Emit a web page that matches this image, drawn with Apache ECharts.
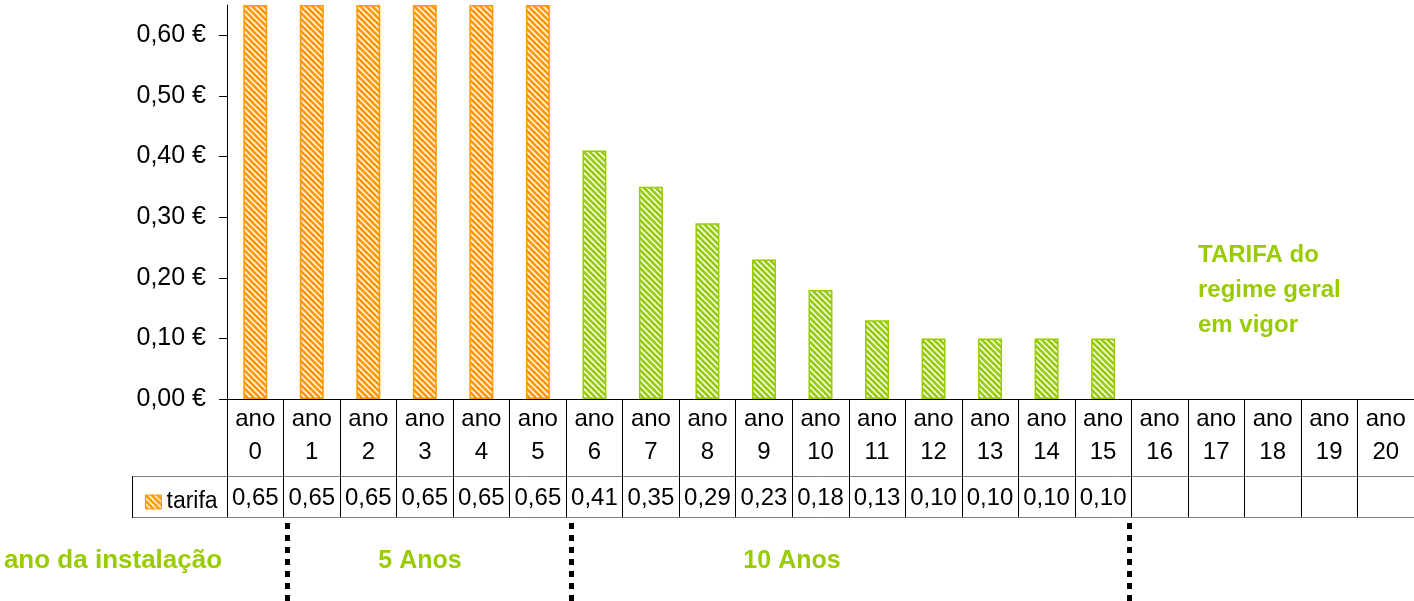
<!DOCTYPE html>
<html>
<head>
<meta charset="utf-8">
<script src="https://cdn.jsdelivr.net/npm/echarts@6/dist/echarts.min.js"></script>
<style>
html,body{margin:0;padding:0;background:#fff;}
#chart{width:1414px;height:601px;}
</style>
</head>
<body>
<div id="chart"></div>
<script>
// ---- data ----
const years = [0,1,2,3,4,5,6,7,8,9,10,11,12,13,14,15,16,17,18,19,20];
const categories = years.map(y => 'ano\n' + y);
const tarifa = [0.65,0.65,0.65,0.65,0.65,0.65,0.41,0.35,0.29,0.23,0.18,0.13,0.10,0.10,0.10,0.10,null,null,null,null,null];
const bonifiedYears = 6; // ano 0..5 in orange
const yTicks = [0,0.1,0.2,0.3,0.4,0.5,0.6];
const seriesName = 'tarifa';
const annotations = ['ano da instalação','5 Anos','10 Anos'];
const sideNote = 'TARIFA do\nregime geral\nem vigor';

// ---- styles ----
const ORANGE = '#ff9900';
const GREEN = '#99cc00';
const FONT = 'Liberation Sans, Arial, sans-serif';

function makePattern(color){
  const c = document.createElement('canvas');
  c.width = 12; c.height = 12;
  const ctx = c.getContext('2d');
  ctx.fillStyle = '#ffffff';
  ctx.fillRect(0,0,12,12);
  ctx.strokeStyle = color;
  ctx.lineWidth = 2.7;
  for (let k = -3; k <= 3; k++){
    ctx.beginPath();
    ctx.moveTo(-2, -2 + k*6);
    ctx.lineTo(14, 14 + k*6);
    ctx.stroke();
  }
  return {image: c, repeat: 'repeat'};
}
const orangePat = makePattern(ORANGE);
const greenPat = makePattern(GREEN);

const fmt = v => (v == null ? '' : v.toFixed(2).replace('.', ','));

const GRID_LEFT = 227, GRID_WIDTH = 1190, GRID_TOP = 5, GRID_BOTTOM = 202;
const ROW1 = 77, ROW2 = 41;
const AXIS_Y = 601 - GRID_BOTTOM;
const catW = GRID_WIDTH / categories.length;

const barData = tarifa.map((v, i) => ({
  value: v,
  itemStyle: {
    color: i < bonifiedYears ? orangePat : greenPat,
    borderColor: i < bonifiedYears ? ORANGE : GREEN,
    borderWidth: 1.5
  }
}));

const chart = echarts.init(document.getElementById('chart'), null, {renderer: 'canvas'});

// dotted separators near category boundaries (after ano 0, ano 5, ano 15)
const sepIdx = [1, bonifiedYears, 16];
const sepShift = [3, 4, -5];
const graphics = [];
sepIdx.forEach((k, i) => {
  const x = Math.round(GRID_LEFT + k * catW + sepShift[i]) + 0.5;
  graphics.push({
    type: 'line', silent: true,
    shape: {x1: x, y1: 523, x2: x, y2: 601},
    style: {stroke: '#000', lineWidth: 5, lineDash: [6, 6]}
  });
});
// legend cell borders
graphics.push({type:'line', silent:true, shape:{x1:132.5,y1:AXIS_Y+ROW1+0.5,x2:GRID_LEFT,y2:AXIS_Y+ROW1+0.5}, style:{stroke:'#808080',lineWidth:1}});
graphics.push({type:'line', silent:true, shape:{x1:132.5,y1:AXIS_Y+ROW1+ROW2+0.5,x2:GRID_LEFT,y2:AXIS_Y+ROW1+ROW2+0.5}, style:{stroke:'#808080',lineWidth:1}});
graphics.push({type:'line', silent:true, shape:{x1:132.5,y1:AXIS_Y+ROW1,x2:132.5,y2:AXIS_Y+ROW1+ROW2+1}, style:{stroke:'#000',lineWidth:1}});
// annotation texts
const annX = [113, 420, 792];
const annSize = [26, 25, 25];
annotations.forEach((t, i) => {
  graphics.push({
    type: 'text', silent: true, x: annX[i], y: 561,
    style: {text: t, fill: GREEN, font: 'bold ' + annSize[i] + 'px ' + FONT, textAlign: 'center', textVerticalAlign: 'middle'}
  });
});
graphics.push({
  type: 'text', silent: true, x: 1198, y: 238,
  style: {text: sideNote, fill: GREEN, font: 'bold 24px ' + FONT, lineHeight: 35, textAlign: 'left', textVerticalAlign: 'top'}
});

chart.setOption({
  animation: false,
  backgroundColor: '#ffffff',
  textStyle: {fontFamily: FONT},
  grid: {left: GRID_LEFT, width: GRID_WIDTH, top: GRID_TOP, bottom: GRID_BOTTOM, containLabel: false},
  legend: {
    left: 140, top: 485,
    itemWidth: 16, itemHeight: 14, itemGap: 10,
    textStyle: {fontSize: 23, color: '#000', fontFamily: FONT, lineHeight: 24},
    data: [{name: seriesName, icon: 'rect', itemStyle: {color: orangePat, borderColor: ORANGE, borderWidth: 1}}]
  },
  xAxis: [
    {
      type: 'category', data: categories, position: 'bottom',
      axisLine: {show: true, lineStyle: {color: '#000', width: 1}},
      axisTick: {show: true, length: ROW1, lineStyle: {color: '#000'}},
      axisLabel: {interval: 0, fontSize: 24, color: '#000', lineHeight: 33, margin: 4, fontFamily: FONT}
    },
    {
      type: 'category', data: tarifa.map(fmt), position: 'bottom', offset: ROW1,
      axisLine: {show: true, lineStyle: {color: '#808080', width: 1}},
      axisTick: {show: true, length: ROW2, lineStyle: {color: '#000'}},
      axisLabel: {interval: 0, fontSize: 24, color: '#000', margin: 10, fontFamily: FONT}
    },
    {
      type: 'category', data: categories, position: 'bottom', offset: ROW1 + ROW2,
      axisLine: {show: true, lineStyle: {color: '#808080', width: 1}},
      axisTick: {show: false}, axisLabel: {show: false}
    }
  ],
  yAxis: {
    type: 'value', min: 0, max: 0.65, interval: 0.1,
    axisLine: {show: true, lineStyle: {color: '#000', width: 1}},
    axisTick: {show: true, length: 8, lineStyle: {color: '#000'}, customValues: yTicks},
    axisLabel: {fontSize: 25, color: '#000', margin: 21, fontFamily: FONT, customValues: yTicks,
      formatter: v => fmt(v) + ' €'},
    splitLine: {show: false}
  },
  series: [{
    name: seriesName, type: 'bar', xAxisIndex: 0,
    barWidth: 24,
    itemStyle: {color: orangePat, borderColor: ORANGE},
    data: barData
  }],
  graphic: graphics
});
</script>
</body>
</html>
